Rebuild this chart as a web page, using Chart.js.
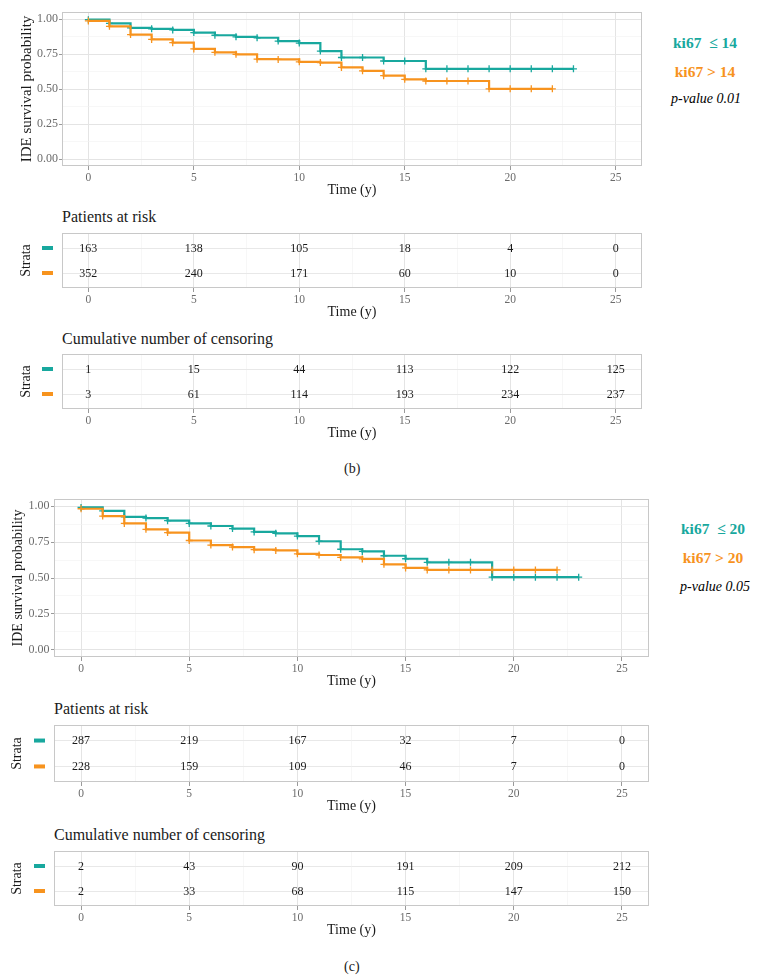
<!DOCTYPE html>
<html>
<head>
<meta charset="utf-8">
<script src="https://cdn.jsdelivr.net/npm/chart.js@4.4.1/dist/chart.umd.min.js"></script>
<style>
  body { margin: 0; background: #fff; }
  #page { position: relative; width: 761px; height: 980px; overflow: hidden; font-family: "Liberation Serif", "Times New Roman", serif; }
  canvas { position: absolute; left: 0; }
  .txt { position: absolute; white-space: nowrap; line-height: 20px; height: 20px; color: #1a1a1a; }
  .leg { position: absolute; width: 110px; text-align: center; white-space: nowrap; line-height: 20px; height: 20px; }
</style>
</head>
<body>
<div id="page">
  <canvas id="kmB" width="650" height="200" style="top:0px"></canvas>
  <canvas id="riskB" width="650" height="93" style="top:229px"></canvas>
  <canvas id="censB" width="650" height="93" style="top:350px"></canvas>
  <canvas id="kmC" width="657" height="204" style="top:487px"></canvas>
  <canvas id="riskC" width="657" height="95" style="top:721px"></canvas>
  <canvas id="censC" width="657" height="93" style="top:847px"></canvas>

  <div class="leg" style="left:650px; top:33px; color:#18A89E; font-weight:bold; font-size:15.5px;">ki67 &nbsp;≤ 14</div>
  <div class="leg" style="left:650px; top:62px; color:#F7931E; font-weight:bold; font-size:15.5px;">ki67 &gt; 14</div>
  <div class="leg" style="left:651px; top:89px; font-style:italic; font-size:14px;">p-value 0.01</div>

  <div class="txt" style="left:62px; top:207px; font-size:16px;">Patients at risk</div>
  <div class="txt" style="left:62px; top:329px; font-size:16px;">Cumulative number of censoring</div>
  <div class="txt" style="left:344px; top:459px; font-size:14px;">(b)</div>

  <div class="leg" style="left:658px; top:519px; color:#18A89E; font-weight:bold; font-size:15.5px;">ki67 &nbsp;≤ 20</div>
  <div class="leg" style="left:658px; top:548px; color:#F7931E; font-weight:bold; font-size:15.5px;">ki67 &gt; 20</div>
  <div class="leg" style="left:660px; top:577px; font-style:italic; font-size:14px;">p-value 0.05</div>

  <div class="txt" style="left:54px; top:699px; font-size:16px;">Patients at risk</div>
  <div class="txt" style="left:54px; top:825px; font-size:16px;">Cumulative number of censoring</div>
  <div class="txt" style="left:344px; top:957px; font-size:14px;">(c)</div>
</div>

<script>
// ---- data ----
const yearsLow = [0, 1, 2, 3, 4, 5, 6, 7, 8, 9, 10, 11, 12, 13, 14, 15, 16, 17, 18, 19, 20, 21, 22, 23];
const yearsHigh = [0, 1, 2, 3, 4, 5, 6, 7, 8, 9, 10, 11, 12, 13, 14, 15, 16, 17, 18, 19, 20, 21, 22];

// panel (b): ki67 <= 14 vs > 14
const survB_low = [0.995, 0.969, 0.936, 0.930, 0.922, 0.903, 0.884, 0.873, 0.866, 0.842, 0.828, 0.771,
  0.725, 0.725, 0.700, 0.700, 0.644, 0.644, 0.644, 0.644, 0.644, 0.644, 0.644, 0.644];
const survB_high = [0.986, 0.948, 0.889, 0.854, 0.831, 0.786, 0.762, 0.748, 0.713, 0.711, 0.694, 0.689,
  0.654, 0.630, 0.595, 0.569, 0.557, 0.557, 0.557, 0.501, 0.501, 0.501, 0.501];

// panel (c): ki67 <= 20 vs > 20
const survC_low = [0.991, 0.968, 0.926, 0.917, 0.899, 0.880, 0.862, 0.844, 0.821, 0.811, 0.792, 0.756,
  0.700, 0.685, 0.655, 0.634, 0.609, 0.609, 0.609, 0.506, 0.506, 0.506, 0.506, 0.506];
const survC_high = [0.982, 0.931, 0.880, 0.839, 0.816, 0.761, 0.729, 0.715, 0.697, 0.692, 0.668, 0.660,
  0.643, 0.633, 0.595, 0.570, 0.556, 0.556, 0.556, 0.556, 0.556, 0.556, 0.556];

const tableTimes = [0, 5, 10, 15, 20, 25];
const atRiskB_low = [163, 138, 105, 18, 4, 0];
const atRiskB_high = [352, 240, 171, 60, 10, 0];
const censorB_low = [1, 15, 44, 113, 122, 125];
const censorB_high = [3, 61, 114, 193, 234, 237];
const atRiskC_low = [287, 219, 167, 32, 7, 0];
const atRiskC_high = [228, 159, 109, 46, 7, 0];
const censorC_low = [2, 43, 90, 191, 209, 212];
const censorC_high = [2, 33, 68, 115, 147, 150];

const xTicks = [0, 5, 10, 15, 20, 25];
const yTicks = [0, 0.25, 0.5, 0.75, 1];

const TEAL = '#18A89E';
const ORANGE = '#F7931E';
const SERIF = '"Liberation Serif", "Times New Roman", serif';

Chart.defaults.font.family = SERIF;
Chart.defaults.animation = false;
Chart.defaults.responsive = false;
Chart.defaults.plugins.legend.display = false;
Chart.defaults.plugins.tooltip.enabled = false;

// major ticks plus the minor ones half way between
function withMinor(major) {
  const mids = major.slice(1).map((v, i) => (v + major[i]) / 2);
  return major.concat(mids).sort((a, b) => a - b);
}
const isMajor = (list, v) => list.some(m => Math.abs(m - v) < 1e-9);

// ggplot-like grey box round the panel
const panelBox = {
  id: 'panelBox',
  afterDraw(chart) {
    const a = chart.chartArea, ctx = chart.ctx;
    ctx.save();
    ctx.strokeStyle = '#C8C8C8';
    ctx.lineWidth = 1;
    ctx.strokeRect(a.left + 0.5, a.top + 0.5, a.right - a.left - 1, a.bottom - a.top - 1);
    ctx.restore();
  }
};

// numbers of the tables and the coloured strata dashes
const tableText = {
  id: 'tableText',
  afterDatasetsDraw(chart) {
    const ctx = chart.ctx;
    const ys = chart.scales.y;
    ctx.save();
    ctx.font = '12px ' + SERIF;
    ctx.textAlign = 'center';
    ctx.textBaseline = 'middle';
    chart.data.datasets.forEach((ds, di) => {
      const meta = chart.getDatasetMeta(di);
      ctx.fillStyle = '#1a1a1a';
      meta.data.forEach((pt, i) => ctx.fillText(String(ds.counts[i]), pt.x, pt.y + 0.5));
      ctx.fillStyle = ds.dashColor;
      ctx.fillRect(chart.chartArea.left - 20, ys.getPixelForValue(di + 1) - 2, 11, 4);
    });
    ctx.restore();
  }
};

function xScale() {
  const grid = withMinor(xTicks);
  return {
    type: 'linear', min: -1.25, max: 26.25,
    afterBuildTicks: s => { s.ticks = grid.map(v => ({ value: v })); },
    afterFit: s => { s.height = 34; },
    ticks: {
      autoSkip: false, maxRotation: 0, padding: 1, color: '#6b6b6b', font: { size: 11.5 },
      callback: v => isMajor(xTicks, v) ? String(v) : ''
    },
    grid: {
      color: c => isMajor(xTicks, c.tick.value) ? '#E4E4E4' : '#F1F1F1',
      lineWidth: c => isMajor(xTicks, c.tick.value) ? 1 : 0.6,
      tickLength: 4,
      tickColor: c => isMajor(xTicks, c.tick.value) ? '#9a9a9a' : 'rgba(0,0,0,0)'
    },
    border: { display: false },
    title: { display: true, text: 'Time (y)', color: '#1a1a1a', font: { size: 14 }, padding: { top: 0, bottom: 1 } }
  };
}

function kmChart(id, low, high, geo) {
  const grid = withMinor(yTicks);
  const ds = (ys, xs, color) => ({
    data: xs.map((t, i) => ({ x: t, y: ys[i] })),
    borderColor: color, backgroundColor: color, borderWidth: 2.2,
    stepped: true, pointStyle: 'cross', pointRadius: 3.5, pointBorderWidth: 1.3,
    pointBorderColor: color
  });
  new Chart(document.getElementById(id), {
    type: 'line',
    data: { datasets: [ds(high, yearsHigh, ORANGE), ds(low, yearsLow, TEAL)] },
    options: {
      layout: { padding: { left: 0, top: 12, right: geo.padRight, bottom: 0 } },
      scales: {
        x: xScale(),
        y: {
          type: 'linear', min: -0.05, max: 1.05,
          afterBuildTicks: s => { s.ticks = grid.map(v => ({ value: v })); },
          afterFit: s => { s.width = geo.left; },
          ticks: {
            autoSkip: false, padding: geo.tickPad, color: '#6b6b6b', font: { size: 12 },
            callback: v => isMajor(yTicks, v) ? v.toFixed(2) : ''
          },
          grid: {
            color: c => isMajor(yTicks, c.tick.value) ? '#E4E4E4' : '#F1F1F1',
            lineWidth: c => isMajor(yTicks, c.tick.value) ? 1 : 0.6,
            tickLength: 3,
            tickColor: c => isMajor(yTicks, c.tick.value) ? '#9a9a9a' : 'rgba(0,0,0,0)'
          },
          border: { display: false },
          title: { display: true, text: 'IDE survival probability', color: '#1a1a1a',
            font: { size: geo.titleSize }, padding: { top: geo.titlePad, bottom: 0 } }
        }
      }
    },
    plugins: [panelBox]
  });
}

function tableChart(id, low, high, geo) {
  const ds = (counts, row, color) => ({
    data: tableTimes.map(t => ({ x: t, y: row })),
    counts: counts, dashColor: color,
    showLine: false, pointRadius: 0
  });
  new Chart(document.getElementById(id), {
    type: 'scatter',
    data: { datasets: [ds(low, 1, TEAL), ds(high, 2, ORANGE)] },
    options: {
      layout: { padding: { left: 0, top: 4, right: geo.padRight, bottom: 0 } },
      scales: {
        x: xScale(),
        y: {
          type: 'linear', min: 0.4, max: 2.6, reverse: true,
          afterBuildTicks: s => { s.ticks = [{ value: 1 }, { value: 2 }]; },
          afterFit: s => { s.width = geo.left; },
          ticks: { display: false },
          grid: { color: '#E8E8E8', lineWidth: 1, drawTicks: false },
          border: { display: false },
          title: { display: true, text: 'Strata', color: '#1a1a1a', font: { size: 14 },
            padding: { top: geo.titlePad, bottom: 0 } }
        }
      }
    },
    plugins: [panelBox, tableText]
  });
}

window.addEventListener('DOMContentLoaded', () => {
  kmChart('kmB', survB_low, survB_high, { left: 62, padRight: 8, tickPad: 1, titleSize: 15, titlePad: 18 });
  tableChart('riskB', atRiskB_low, atRiskB_high, { left: 62, padRight: 8, titlePad: 17.6 });
  tableChart('censB', censorB_low, censorB_high, { left: 62, padRight: 8, titlePad: 17.6 });

  kmChart('kmC', survC_low, survC_high, { left: 54, padRight: 8, tickPad: 1.5, titleSize: 14, titlePad: 10.2 });
  tableChart('riskC', atRiskC_low, atRiskC_high, { left: 54, padRight: 8, titlePad: 9.1 });
  tableChart('censC', censorC_low, censorC_high, { left: 54, padRight: 8, titlePad: 9.1 });
});
</script>
</body>
</html>
